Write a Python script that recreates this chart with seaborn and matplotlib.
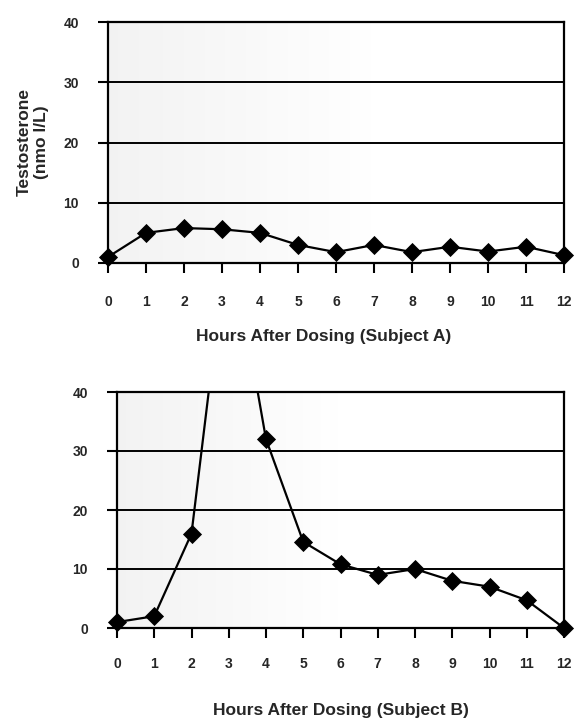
import matplotlib
matplotlib.use("Agg")
import matplotlib.pyplot as plt
import seaborn as sns
import pandas as pd
import numpy as np

hours = [0, 1, 2, 3, 4, 5, 6, 7, 8, 9, 10, 11, 12]
subject_a = [1.0, 5.0, 5.8, 5.6, 5.0, 3.0, 1.8, 3.0, 1.8, 2.7, 1.9, 2.7, 1.3]
subject_b = [1.0, 2.0, 16.0, 68.0, 32.0, 14.6, 10.8, 9.0, 10.0, 8.0, 7.0, 4.7, 0.0]
y_ticks = [0, 10, 20, 30, 40]
x_label_a = "Hours After Dosing (Subject A)"
x_label_b = "Hours After Dosing (Subject B)"
y_label = "Testosterone\n(nmo l/L)"

sns.set_theme(style="white")
plt.rcParams['font.family'] = ['Liberation Sans', 'DejaVu Sans']

W, H = 575, 722
fig = plt.figure(figsize=(W / 100, H / 100), dpi=100)


def add_axes(left, top, right, bottom):
    return fig.add_axes([left / W, 1 - bottom / H, (right - left) / W, (bottom - top) / H])


ax1 = add_axes(108, 22, 564, 263)
ax2 = add_axes(117, 392, 564, 628)


def draw(ax, values, xlabel, ylabel, xpad, label_xy, shade_end):
    df = pd.DataFrame({"h": hours, "v": values})
    # faint scanned-paper shading on the left part of the plot area
    grad = np.clip(1 - np.linspace(0, 12, 300) / shade_end, 0, 1)
    img = np.ones((2, 300, 4))
    img[..., :3] = 0.86
    img[..., 3] = 0.35 * grad[None, :]
    ax.imshow(img, extent=(0, 12, 0, 40), aspect="auto", zorder=0,
              interpolation="bilinear")
    sns.lineplot(data=df, x="h", y="v", ax=ax, color="black", linewidth=1.6,
                 legend=False, zorder=3)
    vis = df[df["v"] <= 40]
    sns.scatterplot(data=vis, x="h", y="v", ax=ax, marker="D", s=95,
                    color="black", edgecolor="black", linewidth=0,
                    legend=False, zorder=5, clip_on=False)
    ax.set_xlim(0, 12)
    ax.set_ylim(0, 40)
    ax.set_xticks(hours)
    ax.set_xticklabels([str(h) for h in hours], fontweight="bold", fontsize=10)
    ax.set_yticks(y_ticks)
    ax.set_yticklabels([str(t) for t in y_ticks], fontweight="bold", fontsize=10)
    for y in y_ticks[1:]:
        ax.axhline(y, color="black", linewidth=1.4, zorder=1)
    for s in ax.spines.values():
        s.set_visible(True)
        s.set_color("black")
        s.set_linewidth(1.6)
    ax.tick_params(axis="x", direction="out", length=7, width=1.5,
                   color="black", pad=xpad, bottom=True)
    ax.tick_params(axis="y", direction="out", length=7, width=1.5,
                   color="black", pad=14, left=True)
    ax.set_xlabel(xlabel, fontweight="bold", fontsize=12.5)
    ax.xaxis.label.set_va("center")
    ax.xaxis.set_label_coords(*label_xy)
    if ylabel:
        ax.set_ylabel(ylabel, fontweight="bold", fontsize=12.5, labelpad=10,
                      linespacing=1.2)
    else:
        ax.set_ylabel("")
    ax.set_facecolor("white")


# label positions in axes coordinates (from measured pixel centres)
draw(ax1, subject_a, x_label_a, y_label, 16,
     ((324 - 108) / (564 - 108), (263 - 337) / (263 - 22)), 7.0)
draw(ax2, subject_b, x_label_b, None, 14,
     ((341 - 117) / (564 - 117), (628 - 710) / (628 - 392)), 6.0)

fig.savefig("out.png", dpi=100, facecolor="white")
